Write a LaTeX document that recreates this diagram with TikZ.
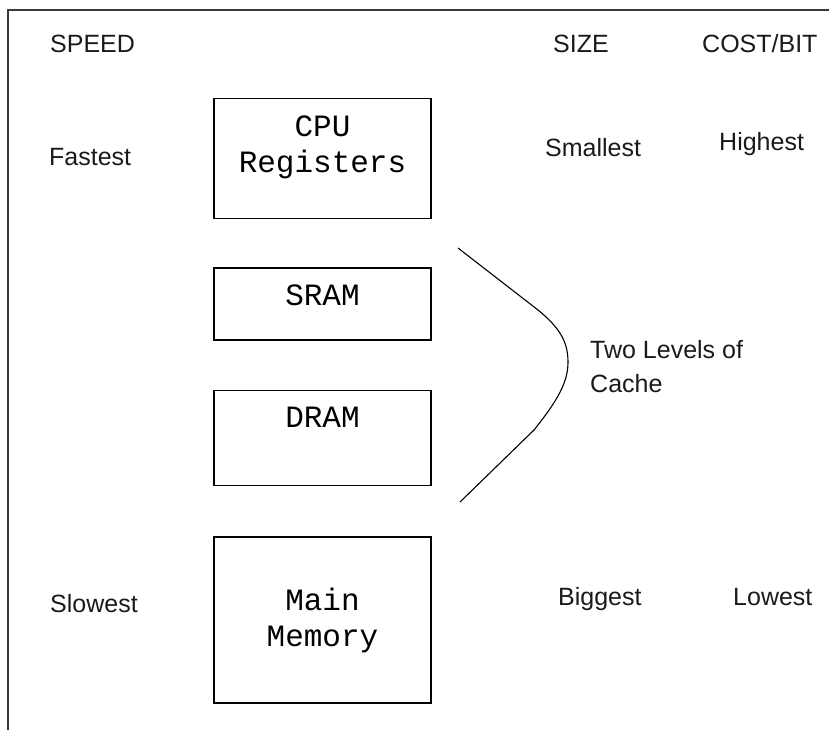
\documentclass[tikz,border=0pt]{standalone}
\usepackage{fontspec}
\setmainfont{Liberation Sans}
\newfontfamily\monofont{Liberation Mono}
\usetikzlibrary{positioning}

\definecolor{framecol}{HTML}{3A3A3A}
\definecolor{textcol}{HTML}{1A1A1A}

\tikzset{
  label text/.style = {
    inner sep=0pt,
    anchor=base west,
    text=textcol,
    font=\fontsize{25}{34}\selectfont,
    },
  memory box/.style = {
    shape = rectangle,
    draw,
    line width=1.4pt,
    minimum width=217pt,
    inner xsep=0pt,
    inner ysep=0pt,
    align=center,
    text height=37pt,
    font=\monofont\fontsize{31}{36}\selectfont,
    },
  frame line/.style = {framecol, line width=1.6pt},
  cache curve/.style = {line width=1.1pt}
}

\begin{document}
\begin{tikzpicture}[x=1pt,y=-1pt]
    \useasboundingbox (0,0) rectangle (829,730);

    % frame
    \coordinate (frame-nw) at (8,10);
    \draw[frame line] (frame-nw -| 829,0) -- (frame-nw) -- (frame-nw |- 0,730);

    % memory levels
    \node [memory box,anchor=north,text height=74pt,text depth=46pt] (cpu) at (322.5,98) {CPU\\Registers};
    \node [memory box,below=48pt of cpu,text depth=35pt] (sram) {SRAM};
    \node [memory box,below=49pt of sram,text depth=58pt] (dram) {DRAM};
    \node [memory box,below=50pt of dram,text height=110pt,text depth=56pt] (mainmem) {Main\\Memory};

    % column headers
    \node [label text] (speed) at (50,53) {SPEED};
    \node [label text] (size) at (553,53) {SIZE};
    \node [label text] (cost) at (702,53) {COST/BIT};

    % top row
    \node [label text] (fastest) at (49,165) {Fastest};
    \node [label text] (smallest) at (545,157) {Smallest};
    \node [label text] (highest) at (719,151) {Highest};

    % bottom row
    \node [label text] (slowest) at (50,612) {Slowest};
    \node [label text] (biggest) at (558,605) {Biggest};
    \node [label text] (lowest) at (733,605) {Lowest};

    % cache
    \node [label text,align=left] (cache) at (590,392) {Two Levels of\\Cache};
    \coordinate (cache-top) at (458,248);
    \coordinate (cache-tip) at (568,362);
    \coordinate (cache-bot) at (460,502);
    \draw[cache curve] (cache-top) -- (538,310)
        .. controls (560,328) and (568,342) .. (cache-tip)
        .. controls (568,382) and (558,400) .. (534,430) -- (cache-bot);

\end{tikzpicture}
\end{document}
